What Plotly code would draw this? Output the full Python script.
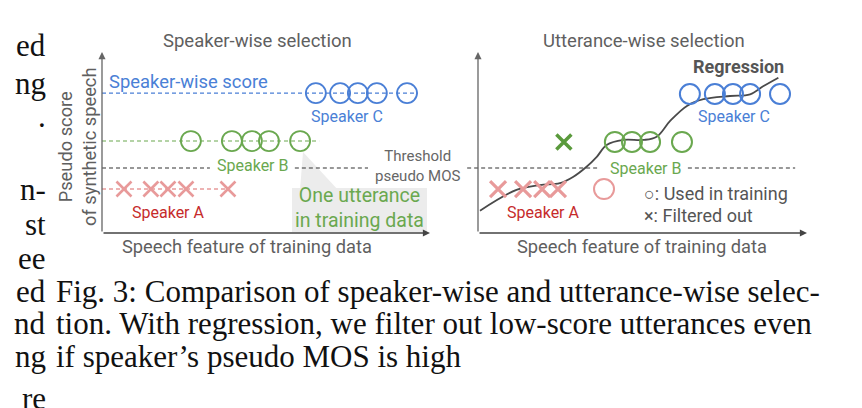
import plotly.graph_objects as go

W, H = 862, 408

# ---------------- data (abstract units: feature 0-10, pseudo score 0-10) ----------------
# Left panel: speaker-wise selection
L_spkC_x = [6.52, 7.26, 7.80, 8.38, 9.30]
L_spkC_score = 7.73
L_spkB_x = [2.71, 3.96, 4.57, 5.09, 6.04]
L_spkB_score = 5.08
L_spkA_x = [0.67, 1.49, 2.01, 2.56, 3.84]
L_spkA_score = 2.43
threshold = 3.59

# Right panel: utterance-wise selection
R_spkC_x = [6.44, 7.20, 7.75, 8.27, 9.18]
R_spkC_y = [7.68, 7.68, 7.68, 7.68, 7.68]
R_spkB_used_x = [4.16, 4.68, 5.23, 6.20]
R_spkB_used_y = [5.03, 5.03, 5.03, 5.03]
R_spkB_filt_x = [2.61]
R_spkB_filt_y = [5.03]
R_spkA_filt_x = [0.61, 1.37, 1.95, 2.43]
R_spkA_filt_y = [2.43, 2.43, 2.43, 2.43]
R_spkA_used_x = [3.83]
R_spkA_used_y = [2.43]
reg_x = [0.06, 1.17, 1.88, 2.49, 2.90, 3.30, 3.61, 3.91, 4.42, 5.03, 5.43, 5.84, 6.35, 6.85, 7.66, 8.27, 8.68, 9.13]
reg_y = [1.23, 2.38, 2.65, 2.75, 3.11, 3.66, 4.21, 4.86, 5.14, 5.14, 5.32, 6.19, 7.02, 7.39, 7.57, 7.66, 8.12, 8.58]

caption_lines = [
    "Fig. 3: Comparison of speaker-wise and utterance-wise selec-",
    "tion. With regression, we filter out low-score utterances even",
    "if speaker\u2019s pseudo MOS is high",
]
side_fragments = [("ed", 45), ("ng", 84), (".", 116), ("n-", 189), ("st", 224),
                  ("ee", 258), ("ed", 291), ("nd", 323), ("ng", 356), ("re", 398)]

# ---------------- colours ----------------
BLUE = "#4a7fd6"
GREEN = "#6aa84f"
GREEN_D = "#5a9a3c"
PINK = "#e89a9a"
DARKRED = "#c62b2b"
GRAY = "#5f5f5f"
AXIS = "#444444"
FONT = "Roboto"

# ---------------- geometry helpers ----------------
def paper_x(px):
    return px / W

def paper_y(py):
    return 1 - py / H

PPU_Y = 18.1
ORIGIN_Y = 233
DOM_Y = (45, 242)
LEFT = dict(origin=102, ppu=32.8, dom=(95, 455))
RIGHT = dict(origin=478, ppu=32.9, dom=(460, 822))

def xrange_for(p):
    return [(p["dom"][0] - p["origin"]) / p["ppu"], (p["dom"][1] - p["origin"]) / p["ppu"]]

yrange = [(ORIGIN_Y - DOM_Y[1]) / PPU_Y, (ORIGIN_Y - DOM_Y[0]) / PPU_Y]

fig = go.Figure()

def dashed(x, y, color, xa, ya, width=1.1):
    fig.add_trace(go.Scatter(x=x, y=y, mode="lines", xaxis=xa, yaxis=ya,
                             line=dict(color=color, width=width, dash="4px,3px"),
                             hoverinfo="skip", showlegend=False))

def marks(x, y, color, symbol, xa, ya, size=20, lw=1.8):
    fig.add_trace(go.Scatter(x=x, y=y, mode="markers", xaxis=xa, yaxis=ya,
                             marker=dict(symbol=symbol, size=size, color=color,
                                         line=dict(color=color, width=lw)),
                             cliponaxis=False, hoverinfo="skip", showlegend=False))

# ---- left panel ----
dashed([0, 9.63], [L_spkC_score] * 2, BLUE, "x", "y")
dashed([0, 6.62], [L_spkB_score] * 2, GREEN, "x", "y")
dashed([0, 3.29, None, 5.88, 8.11], [threshold, threshold, None, threshold, threshold], "#333333", "x", "y")
dashed([0, L_spkA_x[-1]], [L_spkA_score] * 2, PINK, "x", "y", width=1.3)
marks(L_spkC_x, [L_spkC_score] * len(L_spkC_x), BLUE, "circle-open", "x", "y")
marks(L_spkB_x, [L_spkB_score] * len(L_spkB_x), GREEN, "circle-open", "x", "y")
marks(L_spkA_x, [L_spkA_score] * len(L_spkA_x), PINK, "x-thin-open", "x", "y", size=15, lw=2.6)

# ---- right panel ----
dashed([-0.33, 3.62, None, 6.38, 9.64], [threshold, threshold, None, threshold, threshold], "#333333", "x2", "y2")
fig.add_trace(go.Scatter(x=reg_x, y=reg_y, mode="lines", xaxis="x2", yaxis="y2",
                         line=dict(color="#4a4a4a", width=1.8, shape="spline", smoothing=1.0),
                         hoverinfo="skip", showlegend=False))
marks(R_spkC_x, R_spkC_y, BLUE, "circle-open", "x2", "y2", lw=2)
marks(R_spkB_used_x, R_spkB_used_y, GREEN, "circle-open", "x2", "y2", lw=2)
marks(R_spkB_filt_x, R_spkB_filt_y, GREEN_D, "x-thin-open", "x2", "y2", size=15, lw=3.5)
marks(R_spkA_filt_x, R_spkA_filt_y, PINK, "x-thin-open", "x2", "y2", size=16, lw=3.2)
marks(R_spkA_used_x, R_spkA_used_y, PINK, "circle-open", "x2", "y2", lw=2)

ann = []

def text(px, py, s, size=17, color=GRAY, anchor="center", family=FONT, **kw):
    ann.append(dict(x=paper_x(px), y=paper_y(py), xref="paper", yref="paper", text=s,
                    showarrow=False, xanchor=anchor, yanchor="middle",
                    font=dict(family=family, size=size, color=color), **kw))

# axis arrows (data coordinates)
for xa, ya in (("x", "y"), ("x2", "y2")):
    ann.append(dict(x=10, y=0, ax=0, ay=0, xref=xa, yref=ya, axref=xa, ayref=ya, text="",
                    showarrow=True, arrowhead=2, arrowsize=1.1, arrowwidth=1.3, arrowcolor=AXIS))
    ann.append(dict(x=0, y=10, ax=0, ay=0, xref=xa, yref=ya, axref=xa, ayref=ya, text="",
                    showarrow=True, arrowhead=2, arrowsize=1.1, arrowwidth=1.3, arrowcolor="#666666"))

# titles & labels
text(257, 41, "Speaker-wise selection", 18.5)
text(644, 41, "Utterance-wise selection", 18.5)
text(247, 246, "Speech feature of training data", 18.3)
text(642, 246, "Speech feature of training data", 18.3)
text(77, 147, "Pseudo score<br>of synthetic speech", 18.3, textangle=-90)

text(107, 82, "Speaker-wise score", 18.4, BLUE, anchor="left")
text(347, 117, "Speaker C", 16, BLUE)
text(253, 165, "Speaker B", 16, GREEN)
text(168, 212, "Speaker A", 16, DARKRED)
text(418, 166, "Threshold<br>pseudo MOS", 15, "#666666")
text(359, 208, "One utterance<br>in training data", 19.5, GREEN)

text(738, 67, "<b>Regression</b>", 18, "#555555")
text(734, 117, "Speaker C", 16, BLUE)
text(646, 168, "Speaker B", 16, GREEN)
text(543, 212, "Speaker A", 16, DARKRED)
text(642, 193, "\u25cb: Used in training", 18, "#555555", anchor="left")
text(642, 215, "\u00d7: Filtered out", 18, "#555555", anchor="left")

# caption and neighbouring-column fragments
for i, line in enumerate(caption_lines):
    text(54, 291 + i * 32.5, line, 31, "#111111", anchor="left", family="Liberation Serif")
for s, yy in side_fragments:
    text(48, yy, s, 31, "#111111", anchor="right", family="Liberation Serif")

# call-out box with pointer (decoration)
shapes = [
    dict(type="path", xref="paper", yref="paper",
         path=("M {a},{b} L {c},{d} L {e},{f} Z").format(
             a=paper_x(303), b=paper_y(152), c=paper_x(300), d=paper_y(190),
             e=paper_x(338), f=paper_y(190)),
         fillcolor="#ececec", line=dict(width=0), layer="below"),
    dict(type="rect", xref="paper", yref="paper",
         x0=paper_x(292), x1=paper_x(427), y0=paper_y(232), y1=paper_y(188),
         fillcolor="#ececec", line=dict(width=0), layer="below"),
]

axis_common = dict(visible=False, showgrid=False, zeroline=False, fixedrange=True)
fig.update_layout(
    width=W, height=H, margin=dict(l=0, r=0, t=0, b=0),
    paper_bgcolor="white", plot_bgcolor="rgba(0,0,0,0)",
    xaxis=dict(domain=[paper_x(LEFT["dom"][0]), paper_x(LEFT["dom"][1])], range=xrange_for(LEFT), **axis_common),
    yaxis=dict(domain=[paper_y(DOM_Y[1]), paper_y(DOM_Y[0])], range=yrange, **axis_common),
    xaxis2=dict(domain=[paper_x(RIGHT["dom"][0]), paper_x(RIGHT["dom"][1])], range=xrange_for(RIGHT), anchor="y2", **axis_common),
    yaxis2=dict(domain=[paper_y(DOM_Y[1]), paper_y(DOM_Y[0])], range=yrange, anchor="x2", **axis_common),
    annotations=ann, shapes=shapes, showlegend=False,
)

fig.write_html("out.html", config={"displayModeBar": False, "staticPlot": True},
               post_script="document.body.style.margin='0px';")
